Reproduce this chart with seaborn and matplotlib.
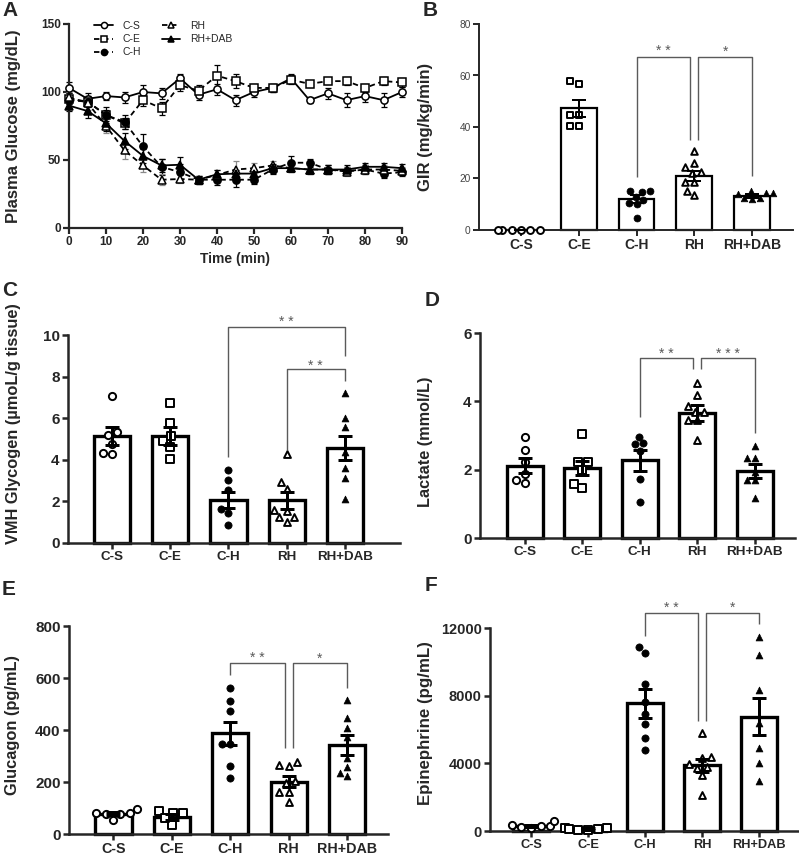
import numpy as np
import pandas as pd
import matplotlib
matplotlib.use("Agg")
import matplotlib.pyplot as plt
import matplotlib.transforms as mtransforms
import seaborn as sns

# ---------------- data ----------------
groups = ["C-S", "C-E", "C-H", "RH", "RH+DAB"]

time_min = [0, 5, 10, 15, 20, 25, 30, 35, 40, 45, 50, 55, 60, 65, 70, 75, 80, 85, 90]
glu_cs = [103, 95, 97, 96, 100, 99, 110, 98, 102, 94, 100, 103, 110, 94, 99, 94, 97, 94, 100]
glu_ce = [95, 93, 83, 77, 94, 88, 105, 101, 112, 108, 103, 103, 109, 106, 108, 108, 103, 108, 107]
glu_ch = [94, 93, 83, 78, 60, 45, 41, 35.5, 35.5, 35.5, 35.5, 43, 48, 48, 43, 42, 43, 40, 41]
glu_rh = [96, 92, 75, 57, 46, 35.5, 36, 35.5, 39, 43, 44, 46, 44, 43, 43, 41.5, 43, 43, 42]
glu_dab = [90, 86, 77, 64, 53, 46, 46.5, 35.5, 39.5, 40, 40, 44, 44, 43, 43, 43, 45, 45, 44]
sem_cs = [4, 4, 3, 4, 5, 4, 3, 4, 4, 4, 4, 3, 3, 2, 4, 5, 4, 5, 4]
sem_ce = [4, 3, 4, 4, 4, 5, 4, 4, 8, 5, 3, 3, 3, 2, 2, 3, 3, 3, 3]
sem_ch = [3, 4, 6, 5, 9, 6, 6, 3, 4, 5, 3, 3, 5, 3, 3, 3, 3, 3, 3]
sem_rh = [4, 5, 5, 6, 5, 4, 3, 3, 4, 6, 4, 3, 3, 3, 3, 3, 3, 3, 3]
sem_dab = [4, 5, 6, 6, 5, 5, 6, 3, 3, 3, 3, 3, 3, 3, 3, 3, 3, 3, 3]

# B: GIR
gir_mean = [0, 47.2, 12.0, 21.1, 13.2]
gir_sem = [0, 3.3, 1.4, 1.9, 0.6]
gir_pts = [[0, 0, 0, 0, 0, 0],
           [56.8, 57.7, 44.7, 44.7, 40.5, 40.5],
           [14.9, 13.0, 15.0, 15.2, 10.4, 10.0, 11.7, 4.5],
           [30.5, 24.3, 26.0, 22.7, 22.0, 18.8, 18.8, 13.6, 15.3],
           [15.0, 14.0, 14.2, 14.4, 12.2, 12.4, 12.3]]

# C: VMH glycogen
gly_mean = [5.14, 5.15, 2.05, 2.05, 4.57]
gly_sem = [0.42, 0.42, 0.38, 0.42, 0.58]
gly_pts = [[7.06, 5.35, 5.18, 4.78, 4.30, 4.33],
           [6.74, 5.75, 4.91, 5.14, 4.62, 4.04],
           [3.50, 3.02, 2.54, 1.65, 1.45, 0.85],
           [4.30, 2.60, 2.92, 1.54, 1.01, 1.25, 1.60, 1.25],
           [7.20, 6.03, 5.60, 4.38, 3.60, 3.13, 2.13]]

# D: lactate
lac_mean = [2.11, 2.04, 2.28, 3.65, 1.96]
lac_sem = [0.22, 0.20, 0.31, 0.24, 0.20]
lac_pts = [[2.96, 2.57, 2.23, 1.87, 1.60, 1.69],
           [3.03, 2.23, 2.23, 1.99, 1.45, 1.58],
           [2.77, 2.96, 2.74, 2.55, 1.74, 1.06],
           [4.55, 4.19, 3.85, 3.70, 3.70, 3.45, 3.45, 2.87],
           [2.69, 2.33, 2.33, 1.94, 1.69, 1.69, 1.18]]

# E: glucagon
gcg_mean = [78, 65, 387, 201, 342]
gcg_sem = [6, 12, 44, 22, 38]
gcg_pts = [[96, 54, 78, 82, 76, 82],
           [79, 88, 79, 35, 60],
           [562, 512, 472, 348, 348, 261, 214],
           [265, 261, 278, 204, 163, 163, 122, 195],
           [515, 447, 406, 372, 291, 256, 224, 233]]

# F: epinephrine
epi_mean = [280, 120, 7552, 3895, 6760]
epi_sem = [60, 40, 850, 390, 1080]
epi_pts = [[240, 330, 300, 280, 200, 620],
           [150, 100, 200, 120, 80, 60],
           [10518, 10854, 8700, 7612, 6900, 6307, 5476, 4784],
           [5773, 4330, 4390, 3950, 3750, 3800, 3300, 2115],
           [11447, 10380, 8343, 6366, 4923, 4033, 2946]]

# ---------------- style ----------------
sns.set_theme(style="ticks")
plt.rcParams["font.family"] = ["Liberation Sans", "DejaVu Sans"]
plt.rcParams["font.weight"] = "bold"
plt.rcParams["axes.labelweight"] = "bold"

marker_of = {"C-S": "o", "C-E": "s", "C-H": "o", "RH": "^", "RH+DAB": "^"}
filled_of = {"C-S": False, "C-E": False, "C-H": True, "RH": False, "RH+DAB": True}
dash_of = {"C-S": "-", "C-E": (0, (3, 2)), "C-H": (0, (3, 2)), "RH": (0, (3, 2)), "RH+DAB": "-"}
GRAY = "#5a5a5a"

W, H = 799, 855
fig = plt.figure(figsize=(W / 100, H / 100), dpi=100)


def add_ax(left, right, top, bottom):
    return fig.add_axes([left / W, 1 - bottom / H, (right - left) / W, (bottom - top) / H])


def style_axes(ax, spine_lw, tick_fs, xtick_fs):
    sns.despine(ax=ax)
    for s in ("left", "bottom"):
        ax.spines[s].set_linewidth(spine_lw)
    ax.tick_params(axis="both", direction="out", length=4, width=spine_lw, pad=2)
    ax.tick_params(axis="y", labelsize=tick_fs)
    ax.tick_params(axis="x", labelsize=xtick_fs)


def bar_panel(ax, means, sems, pts, ylim, yticks, xlim, bar_lw, spine_lw,
              tick_fs, xtick_fs, msize=5.2):
    sns.barplot(x=groups, y=means, order=groups, color="white", edgecolor="black",
                linewidth=bar_lw, width=0.62, errorbar=None, ax=ax, zorder=1)
    for g, vals in zip(groups, pts):
        m = marker_of[g]
        sz = msize * (0.95 if m == "^" else 1.0)
        if filled_of[g]:
            sns.swarmplot(x=[g] * len(vals), y=vals, order=groups, ax=ax, marker=m,
                          color="black", edgecolor="black", linewidth=0.5, size=sz,
                          zorder=3, warn_thresh=1)
        else:
            sns.swarmplot(x=[g] * len(vals), y=vals, order=groups, ax=ax, marker=m,
                          color="white", edgecolor="black", linewidth=1.4, size=sz,
                          zorder=3, warn_thresh=1)
    ax.errorbar(range(len(groups)), means, yerr=sems, fmt="none", ecolor="black",
                elinewidth=bar_lw * 0.9, capsize=5, capthick=bar_lw * 0.9, zorder=4)
    ax.set_ylim(*ylim)
    ax.set_yticks(yticks)
    ax.set_xlim(*xlim)
    ax.set_xlabel("")
    style_axes(ax, spine_lw, tick_fs, xtick_fs)
    for c in ax.collections + ax.lines + ax.patches:
        c.set_clip_on(False)


def bracket(ax, x1, x2, top, b1, b2, text, ty, fs=10):
    ax.plot([x1, x1, x2, x2], [b1, top, top, b2], color=GRAY, lw=1.0, clip_on=False,
            solid_capstyle="butt", zorder=5)
    tr = mtransforms.offset_copy(ax.transData, fig=fig, x=0, y=-4, units="points")
    ax.text((x1 + x2) / 2, ty, text, ha="center", va="center", color=GRAY,
            fontsize=fs, fontweight="normal", transform=tr)


# ---------------- Panel A ----------------
axA = add_ax(69, 402, 24, 228)
series = [("C-S", glu_cs, sem_cs), ("C-E", glu_ce, sem_ce), ("C-H", glu_ch, sem_ch),
          ("RH", glu_rh, sem_rh), ("RH+DAB", glu_dab, sem_dab)]
for g, vals, sems in series:
    axA.errorbar(time_min, vals, yerr=sems, fmt="none",
                 ecolor=("#8a8a8a" if g == "RH" else "black"), elinewidth=0.9,
                 capsize=2.5, capthick=0.9, zorder=2, clip_on=False)
    sns.lineplot(x=time_min, y=vals, ax=axA, color="black", lw=1.3, linestyle=dash_of[g],
                 marker=marker_of[g], markersize=5.2 if marker_of[g] != "^" else 5.5,
                 markerfacecolor=("black" if filled_of[g] else "white"),
                 markeredgecolor="black", markeredgewidth=1.1, label=g, zorder=3,
                 clip_on=False)
axA.set_xlim(0, 90)
axA.set_ylim(0, 150)
axA.set_xticks(range(0, 91, 10))
axA.set_yticks([0, 50, 100, 150])
style_axes(axA, 1.6, 8.5, 8.5)
axA.set_xlabel("Time (min)", fontsize=10, labelpad=3)
axA.set_ylabel("Plasma Glucose (mg/dL)", fontsize=12)
axA.yaxis.set_label_coords(-0.145, 0.5)
leg = axA.legend(ncol=2, loc="upper left", bbox_to_anchor=(0.06, 1.04), frameon=False,
                 fontsize=7.5, handlelength=1.8, handletextpad=0.9, columnspacing=2.0,
                 labelspacing=0.3, borderpad=0, markerscale=0.85)
for t in leg.get_texts():
    t.set_fontweight("normal")

# ---------------- Panel B ----------------
axB = add_ax(479, 793, 24, 230)
bar_panel(axB, gir_mean, gir_sem, gir_pts, (0, 80), [0, 20, 40, 60, 80], (-0.73, 4.71),
          1.6, 1.4, 7.3, 10, msize=5.0)
for lab in axB.get_yticklabels():
    lab.set_fontweight("normal")
    lab.set_color("#444444")
axB.set_ylabel("GIR (mg/kg/min)", fontsize=12)
axB.yaxis.set_label_coords(-0.146, 0.5)
bracket(axB, 2, 2.93, 67.3, 20.7, 35, "* *", 71.5)
bracket(axB, 3.07, 4, 67.3, 35, 21, "*", 71.5)

# ---------------- Panel C ----------------
axC = add_ax(68, 400, 335, 543)
bar_panel(axC, gly_mean, gly_sem, gly_pts, (0, 10), [0, 2, 4, 6, 8, 10], (-0.76, 4.95),
          2.4, 1.8, 11, 9.6)
axC.set_ylabel("VMH Glycogen (\u00b5moL/g tissue)", fontsize=11.8)
axC.yaxis.set_label_coords(-0.142, 0.572)
bracket(axC, 2, 4, 10.37, 4.15, 8.99, "* *", 10.9)
bracket(axC, 3, 4, 8.36, 4.47, 7.8, "* *", 8.8)

# ---------------- Panel D ----------------
axD = add_ax(480, 795, 333, 538)
bar_panel(axD, lac_mean, lac_sem, lac_pts, (0, 6), [0, 2, 4, 6], (-0.78, 4.7),
          2.4, 1.8, 11, 9.7)
axD.set_ylabel("Lactate (mmol/L)", fontsize=11.7)
axD.yaxis.set_label_coords(-0.149, 0.47)
bracket(axD, 2, 2.93, 5.27, 3.55, 4.94, "* *", 5.56)
bracket(axD, 3.07, 4, 5.27, 4.94, 3.06, "* * *", 5.56)

# ---------------- Panel E ----------------
axE = add_ax(69, 388, 626, 834)
bar_panel(axE, gcg_mean, gcg_sem, gcg_pts, (0, 800), [0, 200, 400, 600, 800],
          (-0.76, 4.7), 2.4, 1.8, 11, 10.3)
axE.set_ylabel("Glucagon (pg/mL)", fontsize=11.8)
axE.yaxis.set_label_coords(-0.154, 0.524)
bracket(axE, 2, 2.93, 658, 611, 329, "* *", 697)
bracket(axE, 3.07, 4, 658, 329, 560, "*", 697)

# ---------------- Panel F ----------------
axF = add_ax(490, 799, 628, 831)
bar_panel(axF, epi_mean, epi_sem, epi_pts, (0, 12000), [0, 4000, 8000, 12000],
          (-0.72, 4.70), 2.4, 1.8, 10.5, 9.2)
axF.set_ylabel("Epinephrine (pg/mL)", fontsize=12.2)
axF.yaxis.set_label_coords(-0.184, 0.53)
bracket(axF, 2, 2.93, 12890, 11543, 6504, "* *", 13520)
bracket(axF, 3.07, 4, 12890, 6504, 12217, "*", 13520)

# ---------------- panel letters ----------------
for letter, x, y in [("A", 2, 1), ("B", 423, 1), ("C", 2, 281), ("D", 425, 291),
                     ("E", 2, 580), ("F", 425, 576)]:
    fig.text(x / W, 1 - y / H, letter, fontsize=15, fontweight="bold", ha="left", va="top")

fig.savefig("out.png", dpi=100)
